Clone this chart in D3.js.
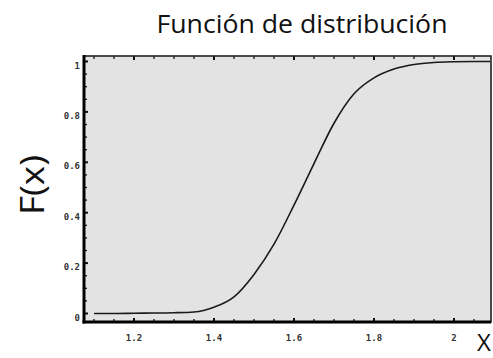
<!DOCTYPE html>
<html>
<head>
<meta charset="utf-8">
<script src="https://cdn.jsdelivr.net/npm/d3@7"></script>
<style>
  html, body { margin: 0; padding: 0; background: #fff; }
  svg { display: block; }
</style>
</head>
<body>
<svg id="chart" width="493" height="358"></svg>
<script>
// Empirical distribution function F(x)
const xValues = [1.10, 1.15, 1.20, 1.25, 1.30, 1.35, 1.40, 1.45, 1.50, 1.55, 1.60,
                 1.65, 1.70, 1.75, 1.80, 1.85, 1.90, 1.95, 2.00, 2.05, 2.09];
const fValues = [0.000, 0.000, 0.001, 0.002, 0.003, 0.006, 0.025, 0.066, 0.155, 0.275, 0.430,
                 0.595, 0.755, 0.872, 0.935, 0.970, 0.988, 0.996, 0.999, 1.000, 1.000];

const xTickValues = [1.2, 1.4, 1.6, 1.8, 2.0];
const xTickLabels = ["1.2", "1.4", "1.6", "1.8", "2"];
const yTickValues = [0, 0.2, 0.4, 0.6, 0.8, 1];
const yTickLabels = ["0", "0.2", "0.4", "0.6", "0.8", "1"];

const titleText = "Función de distribución";
const yTitle = "F(x)";
const xTitle = "X";

const svg = d3.select("#chart");

// plot frame in pixels
const frame = { left: 84, right: 491, top: 56, bottom: 322 };

const x = d3.scaleLinear().domain([1.2, 2.0]).range([134, 454]);
const y = d3.scaleLinear().domain([0, 1]).range([313.5, 61.5]);

// panel background
svg.append("rect")
  .attr("x", frame.left).attr("y", frame.top)
  .attr("width", frame.right - frame.left).attr("height", frame.bottom - frame.top)
  .attr("fill", "#e3e3e3");

// minor / major ticks drawn inward
const xMinor = d3.range(1.1, 2.09, 0.05);
const yMinor = d3.range(0, 1.001, 0.05);
const tickG = svg.append("g").attr("stroke", "#111");

function isMajor(v, step) {
  return Math.abs(Math.round(v / step) * step - v) < 1e-6;
}

xMinor.forEach(v => {
  const px = x(v);
  const major = isMajor(v, 0.2);
  const len = major ? 4 : 3;
  const w = major ? 2 : 1.3;
  tickG.append("line").attr("x1", px).attr("x2", px)
    .attr("y1", frame.bottom).attr("y2", frame.bottom - len).attr("stroke-width", w);
  tickG.append("line").attr("x1", px).attr("x2", px)
    .attr("y1", frame.top).attr("y2", frame.top + len).attr("stroke-width", w);
});
yMinor.forEach(v => {
  const py = y(v);
  const major = isMajor(v, 0.2);
  const len = major ? 4 : 3;
  const w = major ? 2 : 1.3;
  tickG.append("line").attr("x1", frame.left).attr("x2", frame.left + len)
    .attr("y1", py).attr("y2", py).attr("stroke-width", w);
});

// distribution curve
const line = d3.line()
  .x((d, i) => x(xValues[i]))
  .y(d => y(d))
  .curve(d3.curveMonotoneX);

svg.append("path")
  .datum(fValues)
  .attr("d", line)
  .attr("fill", "none")
  .attr("stroke", "#1a1a1a")
  .attr("stroke-width", 1.6);

// frame: thinner top/right, heavy left/bottom
svg.append("rect")
  .attr("x", frame.left).attr("y", frame.top)
  .attr("width", frame.right - frame.left).attr("height", frame.bottom - frame.top)
  .attr("fill", "none").attr("stroke", "#222").attr("stroke-width", 1.6);
svg.append("line").attr("x1", frame.left).attr("x2", frame.left)
  .attr("y1", frame.top - 1).attr("y2", frame.bottom + 1.5)
  .attr("stroke", "#000").attr("stroke-width", 3);
svg.append("line").attr("x1", frame.left - 1.5).attr("x2", frame.right)
  .attr("y1", frame.bottom).attr("y2", frame.bottom)
  .attr("stroke", "#000").attr("stroke-width", 3);

// tick labels
const labelFont = "'DejaVu Sans Mono', monospace";
svg.append("g").selectAll("text")
  .data(xTickValues)
  .join("text")
  .attr("x", d => x(d))
  .attr("y", 341)
  .attr("text-anchor", "middle")
  .attr("font-family", labelFont)
  .attr("font-weight", "bold")
  .attr("font-size", 9)
  .attr("fill", "#333")
  .text((d, i) => xTickLabels[i]);

svg.append("g").selectAll("text")
  .data(yTickValues)
  .join("text")
  .attr("x", 80)
  .attr("y", d => y(d) + 7)
  .attr("text-anchor", "end")
  .attr("font-family", labelFont)
  .attr("font-weight", "bold")
  .attr("font-size", 9)
  .attr("fill", "#333")
  .text((d, i) => yTickLabels[i]);

// titles
const titleFont = "'Open Sans', 'Noto Sans', sans-serif";
svg.append("text")
  .attr("x", 302).attr("y", 33)
  .attr("text-anchor", "middle")
  .attr("font-family", titleFont)
  .attr("font-size", 26)
  .attr("fill", "#111")
  .attr("textLength", 291)
  .attr("lengthAdjust", "spacingAndGlyphs")
  .text(titleText);

svg.append("text")
  .attr("transform", "translate(44,185) rotate(-90)")
  .attr("text-anchor", "middle")
  .attr("font-family", titleFont)
  .attr("font-size", 32)
  .attr("fill", "#111")
  .attr("textLength", 60)
  .attr("lengthAdjust", "spacingAndGlyphs")
  .text(yTitle);

svg.append("text")
  .attr("x", 477).attr("y", 351)
  .attr("font-family", titleFont)
  .attr("font-size", 24)
  .attr("fill", "#111")
  .text(xTitle);
</script>
</body>
</html>
